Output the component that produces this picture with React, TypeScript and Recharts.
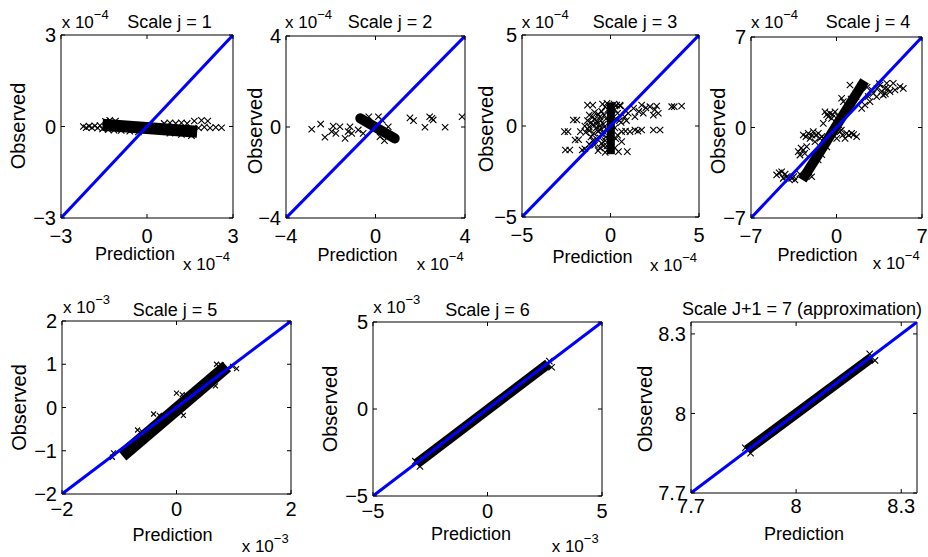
import React from 'react';
import { ScatterChart, Scatter, XAxis, YAxis, ReferenceArea } from 'recharts';

const FONT = '"Liberation Sans", Arial, Helvetica, sans-serif';

// tick values per subplot
const ticks3 = [-3, 0, 3];
const ticks4 = [-4, 0, 4];
const ticks5 = [-5, 0, 5];
const ticks7 = [-7, 0, 7];
const ticks2x = [-2, 0, 2];
const ticks2y = [-2, -1, 0, 1, 2];
const ticksApprox = [7.7, 8, 8.3];

// dense core of each cloud (end points of the black band), in axis units
const p1Band = [[-1.55, 0.06], [1.75, -0.17]];
const p2Band = [[-0.68, 0.38], [0.86, -0.5]];
const p3Band = [[0.02, -1.55], [0.02, 1.3]];
const p4Band = [[-2.8, -4.05], [2.3, 3.6]];
const p5Band = [[-0.95, -1.11], [0.88, 0.95]];
const p6Band = [[-3.1, -3.15], [2.65, 2.6]];
const p7Band = [[7.86, 7.862], [8.215, 8.21]];

// individual x markers
const p1Marks = [
  [-2.22, 0], [-2.12, -0.04], [-2.02, 0.01], [-1.92, -0.04], [-1.82, 0.02], [-1.72, -0.05],
  [-1.64, 0.03], [-1.55, -0.08], [-1.45, 0.17], [-1.3, 0.2], [-1.1, 0.18], [-1.35, -0.1],
  [-1.15, -0.12], [-0.9, -0.13], [-0.6, -0.15], [-0.3, -0.18], [0.6, 0.1], [0.8, 0.12],
  [1.0, 0.1], [1.2, 0.12], [1.4, 0.1], [1.65, 0.18], [1.9, 0.2], [2.12, 0.18], [1.8, -0.05],
  [2.0, -0.02], [2.2, -0.05], [2.4, -0.03], [2.6, -0.04], [0.8, -0.22], [1.2, -0.26], [1.55, -0.3],
];
const p2Marks = [
  [-2.85, -0.1], [-2.45, 0.13], [-2.26, -0.45], [-1.96, -0.2], [-1.89, 0.04], [-1.77, -0.28],
  [-1.59, 0.01], [-1.36, -0.5], [-1.22, -0.2], [-1.14, 0.01], [-1.06, -0.28], [-0.77, -0.13],
  [-0.55, -0.28], [-0.17, 0.09], [0.13, 0.45], [0.2, -0.43], [0.57, 0.01], [0.4, -0.6],
  [1.54, 0.4], [1.7, 0.28], [2.21, -0.01], [2.42, 0.45], [2.52, 0.38], [2.58, 0.31],
  [3.11, -0.01], [3.87, 0.45], [-0.3, 0.45], [0.3, 0.3],
];
const p3Marks = [
  [-1.3, 1.15], [-1.0, 1.15], [-0.45, 1.2], [-0.3, 1.05], [0.35, 1.15], [0.55, 1.1],
  [-0.9, 0.75], [-0.7, 0.65], [-0.5, 0.8], [-0.35, 0.6], [-2.1, 0.33], [-1.9, 0.33],
  [-1.3, 0.3], [-1.1, 0.2], [-0.9, 0.35], [-0.75, 0.25], [-0.55, 0.3], [-0.4, 0.1],
  [-1.45, 0], [-1.2, -0.05], [-1.0, 0.05], [-0.8, -0.1], [-0.6, 0], [-0.35, -0.05],
  [-2.6, -0.31], [-2.4, -0.31], [-1.7, -0.31], [-1.4, -0.35], [-1.2, -0.25], [-0.95, -0.4],
  [-0.7, -0.3], [-0.5, -0.45], [-2.0, -0.77], [-1.8, -0.75], [-1.1, -0.6], [-0.8, -0.7],
  [-0.6, -0.65], [-0.3, -0.8], [-2.55, -1.32], [-2.3, -1.32], [-1.6, -1.32], [-1.45, -1.25],
  [-0.9, -1.05], [-0.5, -0.95], [-0.7, -1.35], [-0.3, -1.45], [0.45, -1.41], [0.95, -1.41],
  [0.63, -0.86], [0.63, -0.31], [0.85, -0.28], [1.1, -0.31], [1.38, -0.22], [1.55, -0.28],
  [1.76, -0.22], [2.42, -0.22], [2.8, -0.22], [0.4, -0.5], [0.5, 0.3], [0.8, 0.5], [1.0, 0.7],
  [1.3, 0.97], [1.38, 0.51], [1.6, 0.8], [1.76, 1.15], [1.85, 0.7], [2.0, 1.0], [2.23, 1.06],
  [2.42, 0.6], [2.61, 1.1], [2.7, 0.7], [2.5, 0.9], [3.46, 1.06], [3.6, 1.06], [4.02, 1.1],
  [0.82, 0.88], [0.54, 1.15], [-0.2, 1.25], [-0.15, 0.9], [-0.25, 0.4], [-0.2, -0.2],
  [-0.25, -0.6], [-0.2, -1.1], [-0.15, -1.3], [0.25, 0.9], [0.3, 0.4], [0.25, -0.1], [0.3, -0.7],
  [0.25, -1.2], [0.2, 1.2], [-1.0, 0.5], [-1.2, 0.6], [-0.6, 0.5], [-0.8, 0.1], [-1.3, -0.15],
  [-0.6, -0.2], [-0.4, -0.3], [-1.0, -0.8], [-0.4, -1.1], [-0.6, -1.2], [-1.2, -1.0], [0.1, 0.6],
  [0.6, 0.2], [0.9, 0.3], [0.4, 0.7],
];
const p4Marks = [
  [1.1, 3.29], [3.56, 3.29], [4.11, 3.42], [4.65, 3.42], [5.2, 3.16], [5.47, 3.03], [4.38, 2.77],
  [3.83, 2.51], [3.29, 2.38], [2.74, 2.0], [3.01, 2.64], [2.33, 1.74], [2.06, 1.48], [3.97, 3.03],
  [4.79, 2.9], [0.56, 2.0], [0.42, 2.26], [-0.94, 1.22], [-0.53, 1.1], [-0.12, 1.22], [-0.67, 0.84],
  [0.15, 0.84], [-1.08, 0.32], [0.29, -0.32], [0.83, -0.45], [1.24, -0.45], [1.65, -0.71],
  [0.7, -0.84], [0.02, -0.84], [-2.72, -0.58], [-2.31, -0.45], [-1.9, -0.32], [-1.49, -0.45],
  [-2.17, -0.84], [-1.35, -0.84], [-0.94, -0.97], [-3.13, -1.87], [-2.72, -1.74], [-2.99, -2.13],
  [-2.44, -1.48], [-1.76, -1.1], [-4.9, -3.67], [-4.49, -3.42], [-4.08, -3.81], [-3.67, -3.93],
  [-3.4, -4.06], [-4.36, -3.93], [-2.03, -3.81], [2.9, 2.9], [3.3, 3.0], [3.7, 2.8], [4.2, 3.0],
  [3.5, 3.4], [2.6, 2.4], [2.5, 3.1], [4.0, 2.6], [-0.8, 1.0], [-0.3, 1.0], [-0.4, 0.7],
  [0.5, -0.6], [1.0, -0.6], [1.4, -0.55], [0.4, -0.2], [-2.5, -0.7], [-2.0, -0.6], [-1.7, -0.6],
  [-1.2, -0.7], [-2.9, -1.6], [-2.6, -2.0], [-4.7, -3.5], [-4.2, -3.6], [-3.9, -4.0], [-3.5, -3.8],
  [-2.2, -3.5], [-1.5, -2.5], [-0.8, -1.5], [0.2, 0.2], [1.0, 1.4], [1.6, 2.4], [2.0, 3.2],
  [-3.0, -3.6], [-0.2, -0.3], [0.6, 1.0], [1.2, 2.2], [-1.2, -2.1],
];
const p5Marks = [
  [0, 0.33], [0.1, 0.3], [0.18, 0.27], [-0.4, -0.15], [-0.3, -0.18], [-0.25, -0.22],
  [-0.68, -0.52], [-0.6, -0.56], [-0.55, -0.6], [0.08, -0.12], [0.12, -0.18], [0.6, 0.55],
  [0.68, 0.5], [0.98, 0.95], [1.05, 0.9], [-1.1, -1.05], [-1.12, -1.15], [0.78, 0.98], [0.7, 1.0],
];
const p6Marks = [[-3.15, -3.0], [-2.95, -3.3], [2.7, 2.75], [2.8, 2.4]];
const p7Marks = [[7.855, 7.87], [7.87, 7.85], [8.21, 8.225], [8.225, 8.2]];

const ML = 40, MT = 20, MR = 8, MB = 36, TL = 4;

const fmt = (v: number) => (v < 0 ? '\u2212' + Math.abs(v) : String(v));
const pts = (a: number[][]) => a.map(([x, y]) => ({ x, y }));

function Panel({ box, domain, xTicks, yTicks, band, bandWidth, round, marks, markSize = 3.2, labOff }: any) {
  const [x0, y0, x1, y1] = box;
  const w = x1 - x0;
  const h = y1 - y0;

  const xTick = (props: any) => {
    const { x, payload } = props;
    return (
      <g>
        <line x1={x} x2={x} y1={MT + h} y2={MT + h - TL} stroke="#000" />
        <line x1={x} x2={x} y1={MT} y2={MT + TL} stroke="#000" />
        <text x={x} y={MT + h + labOff} textAnchor="middle" fontSize={20} fontFamily={FONT} fill="#000">
          {fmt(payload.value)}
        </text>
      </g>
    );
  };
  const yTick = (props: any) => {
    const { y, payload } = props;
    return (
      <g>
        <line x1={ML} x2={ML + TL} y1={y} y2={y} stroke="#000" />
        <line x1={ML + w} x2={ML + w - TL} y1={y} y2={y} stroke="#000" />
        <text x={ML - 5} y={y} dy="0.36em" textAnchor="end" fontSize={20} fontFamily={FONT} fill="#000">
          {fmt(payload.value)}
        </text>
      </g>
    );
  };
  const cross = (props: any) => {
    const { cx, cy } = props;
    const s = markSize;
    return (
      <path
        d={`M${cx - s},${cy - s}L${cx + s},${cy + s}M${cx - s},${cy + s}L${cx + s},${cy - s}`}
        stroke="#000"
        strokeWidth={1.1}
        fill="none"
      />
    );
  };

  return (
    <div style={{ position: 'absolute', left: x0 - ML, top: y0 - MT }}>
      <ScatterChart width={w + ML + MR} height={h + MT + MB} margin={{ top: MT, right: MR, bottom: 0, left: 0 }}>
        <XAxis type="number" dataKey="x" domain={domain} ticks={xTicks} interval={0} allowDataOverflow
          height={MB} axisLine={false} tickLine={false} tick={xTick} />
        <YAxis type="number" dataKey="y" domain={domain} ticks={yTicks} interval={0} allowDataOverflow
          width={ML} axisLine={false} tickLine={false} tick={yTick} />
        <ReferenceArea x1={domain[0]} x2={domain[1]} y1={domain[0]} y2={domain[1]}
          fill="none" fillOpacity={0} stroke="#000" strokeWidth={1} ifOverflow="visible" />
        <Scatter data={pts(marks)} shape={cross} isAnimationActive={false} />
        <Scatter data={pts(band)} shape={() => <g />} isAnimationActive={false}
          line={{ stroke: '#000', strokeWidth: bandWidth, strokeLinecap: round ? 'round' : 'butt' }} />
        <Scatter data={pts([[domain[0], domain[0]], [domain[1], domain[1]]])} shape={() => <g />}
          isAnimationActive={false} line={{ stroke: '#0000ff', strokeWidth: 3 }} />
      </ScatterChart>
    </div>
  );
}

const Exp = ({ x, y, p }: any) => (
  <text x={x} y={y} fontSize={17} fontFamily={FONT} fill="#000">
    x 10<tspan dy={-9} fontSize={13}>{'\u2212' + p}</tspan>
  </text>
);
const Obs = ({ x, y }: any) => (
  <text transform={`translate(${x},${y}) rotate(-90)`} textAnchor="middle" fontSize={20} fontFamily={FONT} fill="#000">
    Observed
  </text>
);
const Pred = ({ x, y }: any) => (
  <text x={x} y={y} textAnchor="middle" fontSize={18} fontFamily={FONT} fill="#000">Prediction</text>
);
const Title = ({ x, y, t }: any) => (
  <text x={x} y={y} textAnchor="middle" fontSize={18} fontFamily={FONT} fill="#000">{t}</text>
);

export default function App() {
  return (
    <div style={{ position: 'absolute', left: 0, top: 0, width: 928, height: 557, overflow: 'hidden', background: '#fff' }}>
      <Panel box={[61, 35, 233, 218]} domain={[-3, 3]} xTicks={ticks3} yTicks={ticks3} band={p1Band} bandWidth={12} marks={p1Marks} labOff={25} />
      <Panel box={[286, 36, 465, 218]} domain={[-4, 4]} xTicks={ticks4} yTicks={ticks4} band={p2Band} bandWidth={10} round marks={p2Marks} labOff={25} />
      <Panel box={[522, 35, 699, 217]} domain={[-5, 5]} xTicks={ticks5} yTicks={ticks5} band={p3Band} bandWidth={8} marks={p3Marks} labOff={25} />
      <Panel box={[751, 37, 922, 218]} domain={[-7, 7]} xTicks={ticks7} yTicks={ticks7} band={p4Band} bandWidth={10} marks={p4Marks} labOff={25} />
      <Panel box={[62, 321, 291, 494]} domain={[-2, 2]} xTicks={ticks2x} yTicks={ticks2y} band={p5Band} bandWidth={13} marks={p5Marks} markSize={2.5} labOff={22} />
      <Panel box={[373, 322, 602, 496]} domain={[-5, 5]} xTicks={ticks5} yTicks={ticks5} band={p6Band} bandWidth={10} marks={p6Marks} labOff={22} />
      <Panel box={[691, 322, 917, 493]} domain={[7.7, 8.345]} xTicks={ticksApprox} yTicks={ticksApprox} band={p7Band} bandWidth={10} marks={p7Marks} labOff={20} />
      <svg width={928} height={557} style={{ position: 'absolute', left: 0, top: 0, pointerEvents: 'none' }}>
        <Title x={169.5} y={28} t="Scale j = 1" />
        <Title x={390} y={28} t="Scale j = 2" />
        <Title x={635} y={28} t="Scale j = 3" />
        <Title x={868} y={28} t="Scale j = 4" />
        <Title x={175} y={316} t="Scale j = 5" />
        <Title x={487.5} y={316} t="Scale j = 6" />
        <Title x={802} y={315} t="Scale J+1 = 7 (approximation)" />
        <Exp x={61.7} y={28} p={4} />
        <Exp x={285} y={28} p={4} />
        <Exp x={521.7} y={28} p={4} />
        <Exp x={751} y={28} p={4} />
        <Exp x={63} y={313} p={3} />
        <Exp x={373.3} y={313} p={3} />
        <Exp x={183} y={270} p={4} />
        <Exp x={416.7} y={270} p={4} />
        <Exp x={650} y={271} p={4} />
        <Exp x={872.7} y={269} p={4} />
        <Exp x={241.7} y={552} p={3} />
        <Exp x={551.7} y={552} p={3} />
        <Obs x={25} y={126} />
        <Obs x={261.7} y={131} />
        <Obs x={493.3} y={129} />
        <Obs x={725} y={131} />
        <Obs x={26} y={407.5} />
        <Obs x={336.7} y={409} />
        <Obs x={651.7} y={409} />
        <Pred x={135} y={260} />
        <Pred x={357.5} y={261} />
        <Pred x={592.5} y={263} />
        <Pred x={817.5} y={261} />
        <Pred x={172.5} y={541} />
        <Pred x={471} y={540} />
        <Pred x={804} y={540} />
      </svg>
    </div>
  );
}
